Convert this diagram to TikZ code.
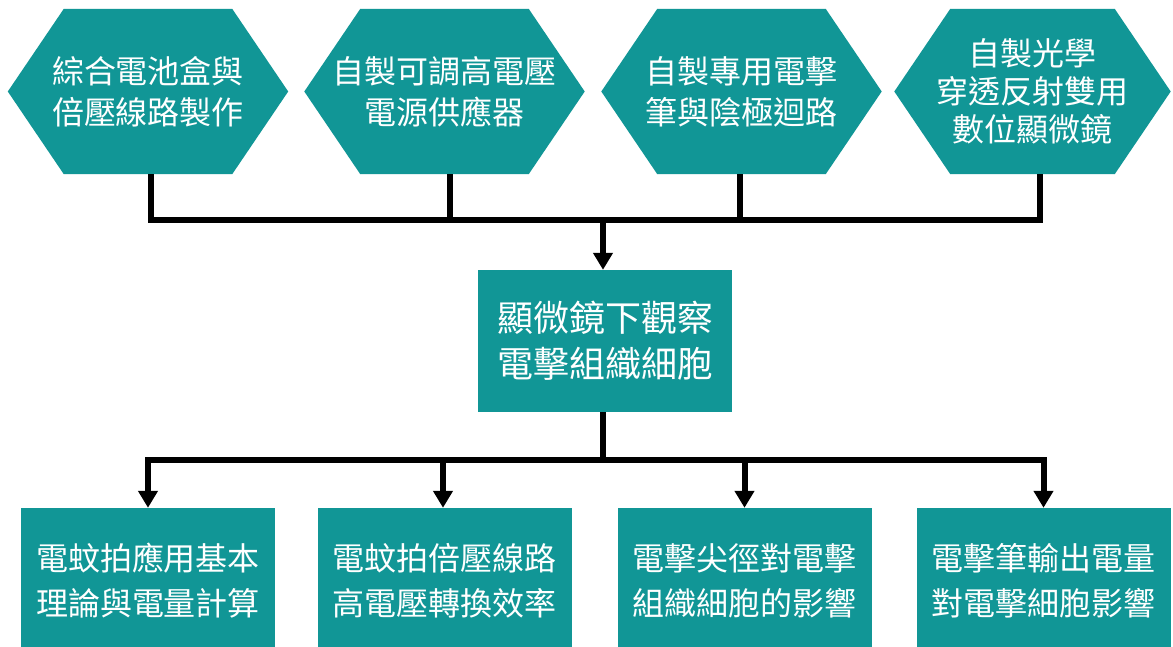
\documentclass[tikz,border=0pt]{standalone}
\usepackage{fontspec}
\newfontfamily\cjk{Noto Sans CJK TC}
\usetikzlibrary{arrows.meta,backgrounds}
\definecolor{mycol}{RGB}{17,150,150}
\newcommand\hexfill[1]{\fill[mycol] (#1.west) -- ([xshift=56pt]#1.north west) -- ([xshift=-56pt]#1.north east) -- (#1.east) -- ([xshift=-56pt]#1.south east) -- ([xshift=56pt]#1.south west) -- cycle;}
\begin{document}
\begin{tikzpicture}[x=1pt,y=-1pt,
  hexa/.style={minimum width=280pt, minimum height=165pt, inner sep=0pt, align=center, text=white, font=\cjk\fontsize{32}{41}\selectfont},
  boxa/.style={fill=mycol, minimum width=254pt, inner sep=0pt, align=center, text=white},
  conn/.style={line width=6pt, line join=miter, draw=black},
  arr/.style={conn, -{Triangle[width=19pt,length=17pt]}}]
\useasboundingbox (0,0) rectangle (1173,646);
% top hexagons
\node[hexa] (h1) at (148,91.5) {綜合電池盒與\\倍壓線路製作};
\node[hexa] (h2) at (444.5,91.5) {自製可調高電壓\\電源供應器};
\node[hexa] (h3) at (741.5,91.5) {自製專用電擊\\筆與陰極迴路};
\node[hexa, minimum width=276pt, font=\cjk\fontsize{32}{38}\selectfont] (h4) at (1032.5,91.5) {自製光學\\穿透反射雙用\\數位顯微鏡};
\begin{scope}[on background layer]
\fill[white] (0,0) rectangle (1173,646);
\hexfill{h1}\hexfill{h2}\hexfill{h3}\hexfill{h4}
\end{scope}
% center box
\node[boxa, minimum height=142pt, font=\cjk\fontsize{36}{46}\selectfont] (c) at (605,341) {顯微鏡下觀察\\電擊組織細胞};
% bottom boxes
\node[boxa, minimum height=145pt, font=\cjk\fontsize{32}{45}\selectfont] (b1) at (148,580.5) {電蚊拍應用基本\\理論與電量計算};
\node[boxa, minimum height=145pt, font=\cjk\fontsize{32}{45}\selectfont] (b2) at (444.5,580.5) {電蚊拍倍壓線路\\高電壓轉換效率};
\node[boxa, minimum height=145pt, font=\cjk\fontsize{32}{45}\selectfont] (b3) at (744.5,580.5) {電擊尖徑對電擊\\組織細胞的影響};
\node[boxa, minimum height=145pt, font=\cjk\fontsize{32}{45}\selectfont] (b4) at (1043.5,580.5) {電擊筆輸出電量\\對電擊細胞影響};
% buses
\coordinate (bus1) at (603,220);
\coordinate (bus2) at (603,460);
\draw[conn] ([xshift=3pt]h1.south) |- ([xshift=7.5pt]h4.south |- bus1) -- ([xshift=7.5pt]h4.south);
\draw[conn] ([xshift=5.5pt]h2.south) -- ([xshift=5.5pt]h2.south |- bus1);
\draw[conn] ([xshift=-1.5pt]h3.south) -- ([xshift=-1.5pt]h3.south |- bus1);
\draw[arr] (bus1) -- (c.north -| bus1);
\draw[conn] (c.south -| bus2) -- (bus2);
\draw[arr] (bus2) -| (b1.north);
\draw[arr] (bus2) -| (b4.north);
\draw[arr] ([xshift=-1.5pt]b2.north |- bus2) -- ([xshift=-1.5pt]b2.north);
\draw[arr] (b3.north |- bus2) -- (b3.north);
\end{tikzpicture}
\end{document}
